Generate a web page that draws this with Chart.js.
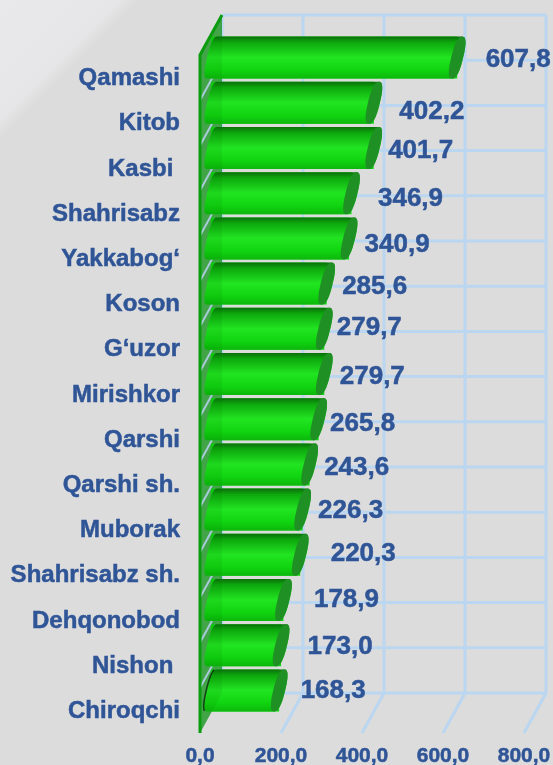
<!DOCTYPE html>
<html>
<head>
<meta charset="utf-8">
<style>
  html, body { margin: 0; padding: 0; background: #dcdcdc; }
  canvas { display: block; }
</style>
<script src="https://cdn.jsdelivr.net/npm/chart.js@4"></script>
</head>
<body>
<canvas id="grafico" width="553" height="765"></canvas>
<script>
const tumanlar = ['Qamashi', 'Kitob', 'Kasbi ', 'Shahrisabz', 'Yakkabog‘', 'Koson', 'G‘uzor', 'Mirishkor',
    'Qarshi', 'Qarshi sh.', 'Muborak', 'Shahrisabz sh.', 'Dehqonobod', 'Nishon ', 'Chiroqchi'];
const qiymatlar = [607.8, 402.2, 401.7, 346.9, 340.9, 285.6, 279.7, 279.7, 265.8, 243.6, 226.3, 220.3, 178.9, 173.0, 168.3];

// hand placed labels in the original, offset from the end of each bar
const yorliqX = [61, 58, 47, 59, 48, 48, 45, 48, 44, 47, 48, 63, 63, 59, 54];
const yorliqY = [2, 9, 3, 6, 6, 3, -1, 3, 5, 3, 1, -1, 0, 2, 0];

const rangMatn = '#2f5597';
const rangTor = '#bad6f0';
const chuqurX = 22;
const chuqurY = 40;

function vergul(v) {
    return Number(v).toFixed(1).replace('.', ',');
}

function ellipsYol(ctx, cx, cy, rx, ry, boshi, oxiri) {
    const qiya = 5;
    for (let i = 0; i <= 32; i++) {
        const t = boshi + (oxiri - boshi) * i / 32;
        const c = Math.sign(Math.cos(t)) * Math.pow(Math.abs(Math.cos(t)), 0.8);
        const s = Math.sign(Math.sin(t)) * Math.pow(Math.abs(Math.sin(t)), 0.8);
        ctx.lineTo(cx + rx * c - qiya * s, cy + ry * s);
    }
}

function silindr(ctx, el, soya) {
    const tepa = el.y - el.height / 2;
    const past = el.y + el.height / 2;
    const ry = el.height / 2;

    const grad = ctx.createLinearGradient(0, tepa, 0, past);
    grad.addColorStop(0, '#0b6f0b');
    grad.addColorStop(0.14, '#0da80d');
    grad.addColorStop(0.5, '#22e522');
    grad.addColorStop(0.8, '#10d410');
    grad.addColorStop(1, '#0cb70c');

    if (soya) {
        // dark rim behind the left end of the last bar
        ctx.beginPath();
        ellipsYol(ctx, el.base + 1, el.y, 5, ry, Math.PI * 0.6, Math.PI * 1.4);
        ctx.strokeStyle = 'rgba(10, 30, 10, 0.8)';
        ctx.lineWidth = 3;
        ctx.stroke();
    }

    ctx.beginPath();
    ellipsYol(ctx, el.x, el.y, 6, ry, -Math.PI / 2, Math.PI / 2);
    ellipsYol(ctx, el.base + 1, el.y, 5, ry, Math.PI / 2, Math.PI * 1.5);
    ctx.closePath();
    ctx.fillStyle = grad;
    ctx.fill();

    ctx.beginPath();
    ellipsYol(ctx, el.x, el.y, 6, ry, 0, Math.PI * 2);
    ctx.closePath();
    ctx.fillStyle = '#1f9024';
    ctx.fill();
}

function devorYol(ctx, a) {
    ctx.beginPath();
    ctx.moveTo(a.left, a.top);
    ctx.lineTo(a.left + chuqurX, a.top - chuqurY);
    ctx.lineTo(a.left + chuqurX, a.bottom - chuqurY);
    ctx.lineTo(a.left, a.bottom);
    ctx.closePath();
}

const uch = {
    id: 'uch',
    beforeDraw(chart) {
        const ctx = chart.ctx;
        ctx.save();
        ctx.fillStyle = '#dcdcdc';
        ctx.fillRect(0, 0, chart.width, chart.height);
        const fon = ctx.createLinearGradient(0, 0, 70, 70);
        fon.addColorStop(0, '#e9e9eb');
        fon.addColorStop(0.85, '#e6e6e8');
        fon.addColorStop(1, '#dcdcdc');
        ctx.fillStyle = fon;
        ctx.fillRect(0, 0, 140, 140);
        ctx.restore();
    },
    beforeDatasetsDraw(chart) {
        const ctx = chart.ctx;
        const { x } = chart.scales;
        const a = chart.chartArea;
        const qator = (a.bottom - a.top) / tumanlar.length;
        ctx.save();
        ctx.strokeStyle = rangTor;
        ctx.lineWidth = 3;
        ctx.beginPath();
        x.ticks.forEach(t => {
            const px = x.getPixelForValue(t.value);
            ctx.moveTo(px + chuqurX, a.top - chuqurY);
            ctx.lineTo(px + chuqurX, a.bottom - chuqurY);
            if (t.value > 0) ctx.lineTo(px, a.bottom);
        });
        for (let i = 0; i <= tumanlar.length; i++) {
            const py = a.top + qator * i - chuqurY;
            ctx.moveTo(a.left + chuqurX, py);
            ctx.lineTo(a.right + chuqurX, py);
        }
        ctx.stroke();

        devorYol(ctx, a);
        ctx.fillStyle = 'rgba(10, 150, 20, 0.7)';
        ctx.fill();

        ctx.lineWidth = 2;
        ctx.beginPath();
        for (let i = 1; i < tumanlar.length; i++) {
            const py = a.top + qator * i;
            ctx.moveTo(a.left, py);
            ctx.lineTo(a.left + chuqurX, py - chuqurY);
        }
        ctx.stroke();
        ctx.restore();

        ctx.save();
        ctx.translate(chuqurX / 2, -chuqurY / 2);
    },
    afterDatasetsDraw(chart) {
        const ctx = chart.ctx;
        const a = chart.chartArea;
        const bars = chart.getDatasetMeta(0).data;
        bars.forEach((el, i) => silindr(ctx, el, i === bars.length - 1));
        ctx.restore();

        // oldingi devor
        ctx.save();
        devorYol(ctx, a);
        ctx.fillStyle = 'rgba(0, 110, 0, 0.1)';
        ctx.fill();
        ctx.strokeStyle = '#0a9c0e';
        ctx.lineWidth = 3;
        ctx.beginPath();
        ctx.moveTo(a.left + chuqurX, a.top - chuqurY);
        ctx.lineTo(a.left, a.top);
        ctx.lineTo(a.left, a.bottom);
        ctx.stroke();

        ctx.fillStyle = rangMatn;
        ctx.strokeStyle = rangMatn;
        ctx.lineWidth = 0.5;
        ctx.font = 'bold 26px "Liberation Sans", Arial, sans-serif';
        ctx.textAlign = 'center';
        ctx.textBaseline = 'middle';
        bars.forEach((el, i) => {
            const px = el.x + chuqurX / 2 + yorliqX[i];
            const py = el.y - chuqurY / 2 + yorliqY[i];
            ctx.fillText(vergul(qiymatlar[i]), px, py);
            ctx.strokeText(vergul(qiymatlar[i]), px, py);
        });
        ctx.restore();
    }
};

new Chart(document.getElementById('grafico'), {
    type: 'bar',
    data: {
        labels: tumanlar,
        datasets: [{
            data: qiymatlar,
            backgroundColor: '#10d410',
            borderWidth: 0,
            categoryPercentage: 1,
            barPercentage: 0.93
        }]
    },
    plugins: [uch],
    options: {
        indexAxis: 'y',
        responsive: false,
        animation: false,
        layout: { padding: { top: 55, right: 29, bottom: 0, left: 0 } },
        plugins: {
            legend: { display: false },
            tooltip: { enabled: false }
        },
        scales: {
            x: {
                min: 0,
                max: 800,
                afterFit: s => { s.height = 32; s.paddingRight = 0; s.paddingLeft = 0; },
                grid: { display: false },
                border: { display: false },
                ticks: {
                    stepSize: 200,
                    maxRotation: 0,
                    padding: 3,
                    color: rangMatn,
                    textStrokeColor: rangMatn,
                    textStrokeWidth: 0.5,
                    font: { size: 21, weight: 'bold', family: '"Liberation Sans", Arial' },
                    callback: v => vergul(v)
                }
            },
            y: {
                afterFit: s => { s.width = 200; },
                grid: { display: false },
                border: { display: false },
                ticks: {
                    padding: 12,
                    labelOffset: 1,
                    autoSkip: false,
                    color: rangMatn,
                    textStrokeColor: rangMatn,
                    textStrokeWidth: 0.5,
                    font: { size: 24, weight: 'bold', family: '"Liberation Sans", Arial' }
                }
            }
        }
    }
});
</script>
</body>
</html>
